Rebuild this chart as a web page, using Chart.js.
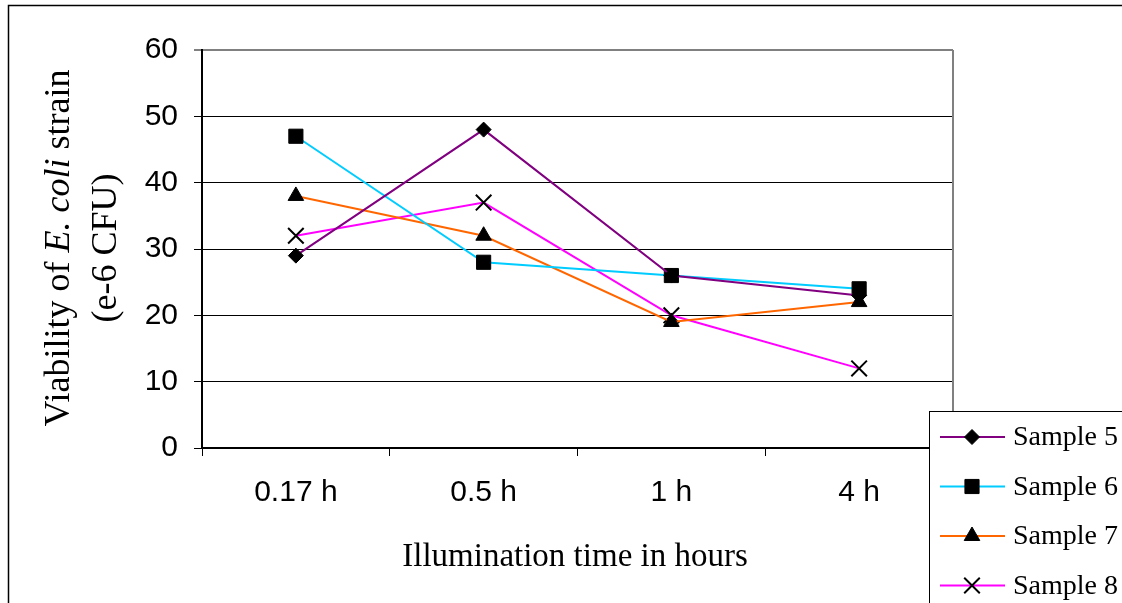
<!DOCTYPE html>
<html>
<head>
<meta charset="utf-8">
<script src="https://cdn.jsdelivr.net/npm/chart.js@4/dist/chart.umd.min.js"></script>
<style>
  html, body { margin: 0; padding: 0; background: #fff; }
  #wrap { width: 1122px; height: 603px; position: relative; }
</style>
</head>
<body>
<div id="wrap"><canvas id="viabilityChart"></canvas></div>
<script>
'use strict';

const timeLabels = ['0.17 h', '0.5 h', '1 h', '4 h'];
const yTicks = [0, 10, 20, 30, 40, 50, 60];

const sample5 = [29, 48, 26, 23];
const sample6 = [47, 28, 26, 24];
const sample7 = [38, 32, 19, 22];
const sample8 = [32, 37, 20, 12];

const seriesNames = ['Sample 5', 'Sample 6', 'Sample 7', 'Sample 8'];
const seriesValues = [sample5, sample6, sample7, sample8];
const lineColors = ['#800080', '#00CCFF', '#FF6600', '#FF00FF'];
const markers = ['rectRot', 'rect', 'triangle', 'crossRot'];
const markerSizes = [7.5, 10, 9, 11];

const serif = '"Liberation Serif", "Times New Roman", serif';
const sans = '"Liberation Sans", Arial, sans-serif';

// outer frame, right border, axis titles and legend
const decorPlugin = {
    id: 'decor',
    afterDraw(chart) {
        const ctx = chart.ctx;
        const area = chart.chartArea;
        ctx.save();

        ctx.strokeStyle = '#000';
        ctx.lineWidth = 1.5;
        ctx.strokeRect(8.5, 5.5, 1300, 800);

        ctx.strokeStyle = '#808080';
        ctx.lineWidth = 2;
        ctx.beginPath();
        ctx.moveTo(area.right, area.top);
        ctx.lineTo(area.right, area.bottom);
        ctx.stroke();

        // x axis title
        ctx.fillStyle = '#000';
        ctx.textBaseline = 'middle';
        ctx.textAlign = 'center';
        ctx.font = '33px ' + serif;
        ctx.fillText('Illumination time in hours', 575, 557);

        // y axis title, two lines rotated
        ctx.save();
        ctx.translate(60, 248);
        ctx.rotate(-Math.PI / 2);
        const parts = [
            { text: 'Viability of ', font: '36px ' + serif },
            { text: 'E. coli', font: 'italic 36px ' + serif },
            { text: ' strain', font: '36px ' + serif }
        ];
        let total = 0;
        parts.forEach(p => { ctx.font = p.font; p.w = ctx.measureText(p.text).width; total += p.w; });
        let x = -total / 2;
        ctx.textAlign = 'left';
        parts.forEach(p => { ctx.font = p.font; ctx.fillText(p.text, x, 0); x += p.w; });
        ctx.restore();

        ctx.save();
        ctx.translate(107, 248);
        ctx.rotate(-Math.PI / 2);
        ctx.font = '36px ' + serif;
        ctx.textAlign = 'center';
        ctx.fillText('(e-6 CFU)', 0, 0);
        ctx.restore();

        // legend box, cut off by the page edge
        ctx.fillStyle = '#fff';
        ctx.fillRect(929, 411, 300, 300);
        ctx.strokeStyle = '#000';
        ctx.lineWidth = 1;
        ctx.strokeRect(929.5, 411.5, 300, 300);

        chart.data.datasets.forEach((ds, i) => {
            const y = 437 + i * 49.5;
            ctx.strokeStyle = ds.borderColor;
            ctx.lineWidth = 2;
            ctx.beginPath();
            ctx.moveTo(940, y);
            ctx.lineTo(1005, y);
            ctx.stroke();
            ctx.fillStyle = '#000';
            ctx.strokeStyle = '#000';
            ctx.lineWidth = ds.pointBorderWidth;
            Chart.helpers.drawPoint(ctx, {
                pointStyle: ds.pointStyle,
                radius: ds.pointRadius,
                rotation: 0,
                borderWidth: ds.pointBorderWidth
            }, 972, y);
            ctx.fillStyle = '#000';
            ctx.font = '28px ' + serif;
            ctx.textAlign = 'left';
            ctx.textBaseline = 'middle';
            ctx.fillText(ds.label, 1013, y + 1);
        });

        ctx.restore();
    }
};

const datasets = seriesNames.map((name, i) => ({
    label: name,
    data: seriesValues[i],
    borderColor: lineColors[i],
    borderWidth: 2,
    pointStyle: markers[i],
    pointRadius: markerSizes[i],
    pointHoverRadius: markerSizes[i],
    pointBackgroundColor: '#000',
    pointBorderColor: '#000',
    pointBorderWidth: markers[i] === 'crossRot' ? 2 : 1,
    tension: 0
}));

new Chart(document.getElementById('viabilityChart'), {
    type: 'line',
    data: { labels: timeLabels, datasets: datasets },
    options: {
        responsive: true,
        maintainAspectRatio: false,
        animation: false,
        layout: { padding: { top: 50, right: 169, left: 0, bottom: 0 } },
        plugins: {
            legend: { display: false },
            tooltip: { enabled: false }
        },
        scales: {
            x: {
                offset: true,
                grid: {
                    offset: true,
                    drawOnChartArea: false,
                    drawTicks: true,
                    tickLength: 8,
                    color: '#000'
                },
                border: { color: '#000', width: 2 },
                ticks: {
                    color: '#000',
                    font: { family: sans, size: 30 },
                    padding: 19,
                    maxRotation: 0
                },
                afterFit(scale) { scale.height = 603 - 448; }
            },
            y: {
                min: 0,
                max: 60,
                afterBuildTicks(scale) { scale.ticks = yTicks.map(v => ({ value: v })); },
                grid: {
                    color: c => (c.tick && c.tick.value === 60 ? '#808080' : '#000'),
                    lineWidth: c => (c.tick && c.tick.value === 60 ? 2 : 1),
                    tickLength: 8
                },
                border: { color: '#000', width: 2 },
                ticks: {
                    color: '#000',
                    font: { family: sans, size: 30 },
                    padding: 16
                },
                afterFit(scale) { scale.width = 202; }
            }
        }
    },
    plugins: [decorPlugin]
});
</script>
</body>
</html>
